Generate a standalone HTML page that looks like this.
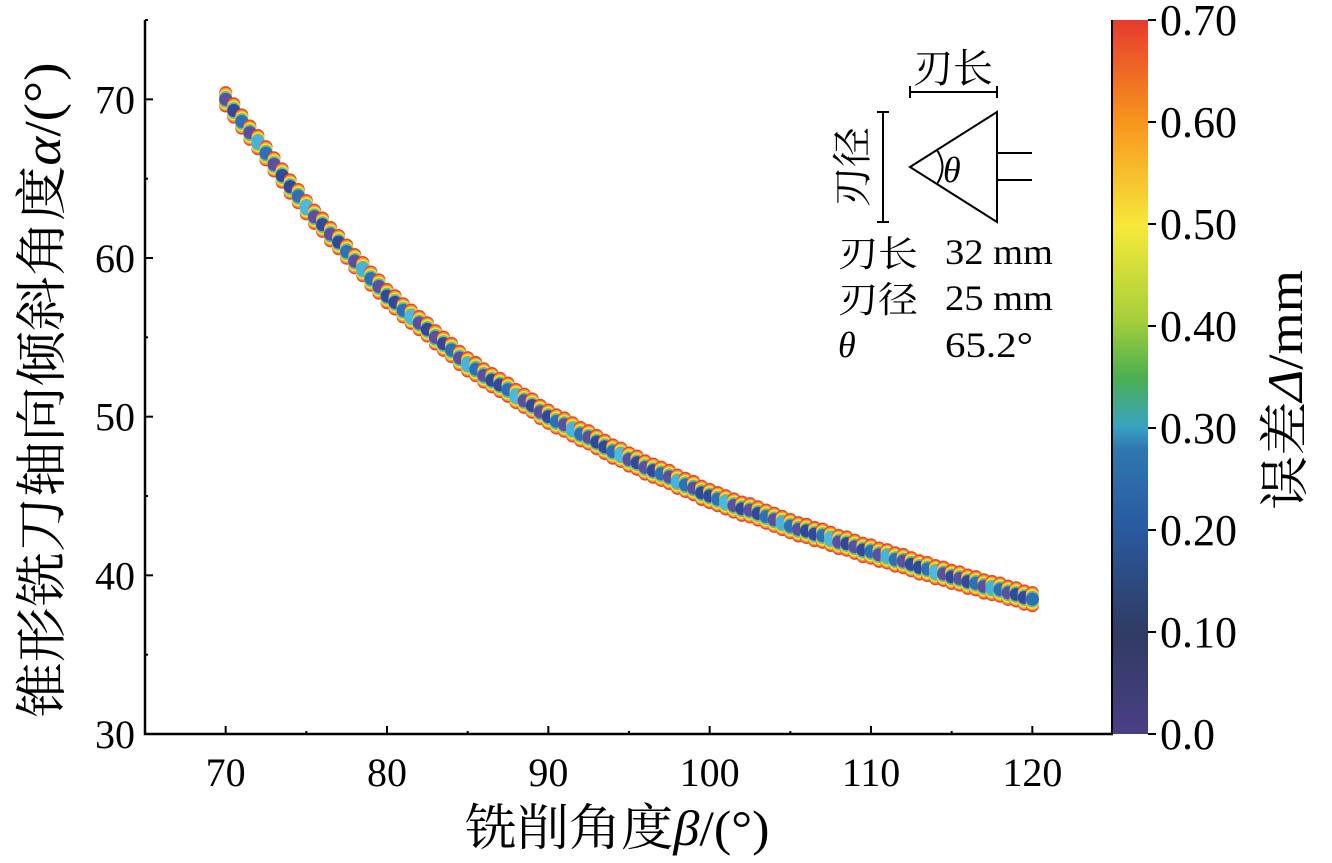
<!DOCTYPE html>
<html><head><meta charset="utf-8"><style>
body{margin:0;background:#fff}
svg{display:block;font-family:"Liberation Serif","Noto Serif CJK SC",serif}
</style></head><body>
<svg id="chart" width="1332" height="863" viewBox="0 0 1332 863">
<defs>
<linearGradient id="cb" x1="0" y1="1" x2="0" y2="0">
<stop offset="0" stop-color="#4a3f86"/><stop offset="0.14" stop-color="#2f3b62"/>
<stop offset="0.29" stop-color="#2a5aa0"/><stop offset="0.4" stop-color="#2e78b0"/>
<stop offset="0.43" stop-color="#3aa2c2"/><stop offset="0.5" stop-color="#4caf50"/>
<stop offset="0.58" stop-color="#a5cf3a"/><stop offset="0.71" stop-color="#f6e93a"/>
<stop offset="0.86" stop-color="#f7941d"/><stop offset="1" stop-color="#e63b2e"/>
</linearGradient>
</defs>
<g id="marks"></g>
<g id="axes"></g>
<rect x="1113" y="20" width="35" height="714" fill="url(#cb)"/>
<line x1="1112" y1="20" x2="1112" y2="734" stroke="#000" stroke-width="2"/>
<g id="cbticks"></g>
<text x="1302" y="390" font-size="50" text-anchor="middle" textLength="240" lengthAdjust="spacingAndGlyphs" transform="rotate(-90 1302 390)">误差<tspan font-style="italic">Δ</tspan>/mm</text>
<text x="617" y="845" font-size="50" text-anchor="middle" textLength="305" lengthAdjust="spacingAndGlyphs">铣削角度<tspan font-style="italic">β</tspan>/(°)</text>
<text x="60" y="390" font-size="52" text-anchor="middle" textLength="655" lengthAdjust="spacingAndGlyphs" transform="rotate(-90 60 390)">锥形铣刀轴向倾斜角度<tspan font-style="italic">α</tspan>/(°)</text>
<g stroke="#000" stroke-width="2" fill="none">
<line x1="910" y1="92" x2="997" y2="92"/><line x1="910" y1="86" x2="910" y2="98"/><line x1="997" y1="86" x2="997" y2="98"/>
<line x1="883" y1="112" x2="883" y2="222"/><line x1="877" y1="112" x2="889" y2="112"/><line x1="877" y1="222" x2="889" y2="222"/>
<path d="M910 167 L997 112 L997 222 Z"/>
<path d="M937 150 Q948 167 937 184"/>
<line x1="997" y1="153" x2="1032" y2="153"/><line x1="997" y1="180" x2="1032" y2="180"/>
</g>
<g font-size="36">
<text x="953" y="82" text-anchor="middle" font-size="40">刃长</text>
<text x="866" y="167" text-anchor="middle" font-size="40" transform="rotate(-90 866 167)">刃径</text>
<text x="943" y="182" font-style="italic">θ</text>
<text x="838" y="266" textLength="80" lengthAdjust="spacingAndGlyphs">刃长</text><text x="945" y="264" textLength="108" lengthAdjust="spacingAndGlyphs">32 mm</text>
<text x="838" y="312" textLength="80" lengthAdjust="spacingAndGlyphs">刃径</text><text x="945" y="310" textLength="108" lengthAdjust="spacingAndGlyphs">25 mm</text>
<text x="838" y="357" font-style="italic">θ</text><text x="945" y="357" textLength="88" lengthAdjust="spacingAndGlyphs">65.2°</text>
</g>
</svg>
<script>
const betaStart = 70, betaStep = 0.5;
const alphaValues = [70.0,69.3,68.6,67.9,67.3,66.6,65.9,65.2,64.5,63.9,
63.2,62.6,62.1,61.5,61.0,60.4,59.8,59.3,58.7,58.2,
57.6,57.2,56.7,56.3,55.9,55.5,55.0,54.6,54.2,53.7,
53.3,53.0,52.6,52.3,52.0,51.7,51.3,51.0,50.7,50.3,
50.0,49.7,49.5,49.2,48.9,48.7,48.4,48.1,47.8,47.6,
47.3,47.1,46.8,46.6,46.4,46.2,45.9,45.7,45.5,45.2,
45.0,44.8,44.6,44.4,44.2,44.1,43.9,43.7,43.5,43.3,
43.1,42.9,42.8,42.6,42.5,42.3,42.1,42.0,41.8,41.6,
41.5,41.3,41.2,41.0,40.9,40.7,40.5,40.4,40.2,40.1,
39.9,39.8,39.6,39.5,39.3,39.2,39.1,38.9,38.8,38.6,38.5];
const layerOffsets = [0.42,0.32,0.22,0.12,0.05];
const layerColors = ["#e8432e","#f39a2a","#f4e23c","#7cc04a","#52b8d8"];
const centerColors = ["#5b4fa0","#34479a","#2e6fb5","#5b4fa0","#46b2dd","#2e6fb5","#5b4fa0","#2f4a96","#34479a","#2e6fb5","#4fb8e0","#5b4fa0","#34479a"];
const xTicks = [70,80,90,100,110,120];
const yTicks = [30,40,50,60,70];
const cbTicks = ["0.0","0.10","0.20","0.30","0.40","0.50","0.60","0.70"];
const X0=145,X1=1113,Y0=734,Y1=20;
const sx=v=>X0+(v-65)/60*(X1-X0);
const sy=v=>Y0-(v-30)/45*(Y0-Y1);
const NS="http://www.w3.org/2000/svg";
function mk(tag,attrs,parent){const e=document.createElementNS(NS,tag);for(const k in attrs)e.setAttribute(k,attrs[k]);parent.appendChild(e);return e;}
const marks=document.getElementById('marks');
alphaValues.forEach((a,i)=>{
  const b=betaStart+i*betaStep;
  const g=mk('g',{},marks);
  
  
  layerOffsets.forEach((o,j)=>{
    [o,-o].forEach(s=>{
      const c=mk('circle',{cx:sx(b),cy:sy(a+s),r:6.5,fill:layerColors[j]},g);
      
      
    });
  });
  const c=mk('circle',{cx:sx(b),cy:sy(a),r:6.5,fill:centerColors[i%centerColors.length]},g);
  
  
});
const ax=document.getElementById('axes');
mk('path',{d:`M${X0} ${Y1} L${X0} ${Y0} L${X1} ${Y0}`,stroke:'#000','stroke-width':2.5,fill:'none'},ax);
for(let v=65;v<=125;v+=5){const x=sx(v);mk('line',{x1:x,y1:Y0,x2:x,y2:Y0-(v%10===0?8:3),stroke:'#000','stroke-width':2},ax);}
xTicks.forEach(v=>{const t=mk('text',{x:sx(v),y:Y0+52,'font-size':40,'text-anchor':'middle'},ax);t.textContent=v;
});
for(let v=30;v<=75;v+=5){const y=sy(v);mk('line',{x1:X0,y1:y,x2:X0+(v%10===0?8:3),y2:y,stroke:'#000','stroke-width':2},ax);}
yTicks.forEach(v=>{const t=mk('text',{x:X0-10,y:sy(v)+14,'font-size':40,'text-anchor':'end'},ax);t.textContent=v;
});
const cb=document.getElementById('cbticks');
cbTicks.forEach((s,i)=>{const y=Y0-i/7*(Y0-Y1);
mk('line',{x1:1148,y1:y,x2:1156,y2:y,stroke:'#000','stroke-width':2},cb);
const t=mk('text',{x:1160,y:y+15,'font-size':44},cb);t.textContent=s;
});
</script>
</body></html>
